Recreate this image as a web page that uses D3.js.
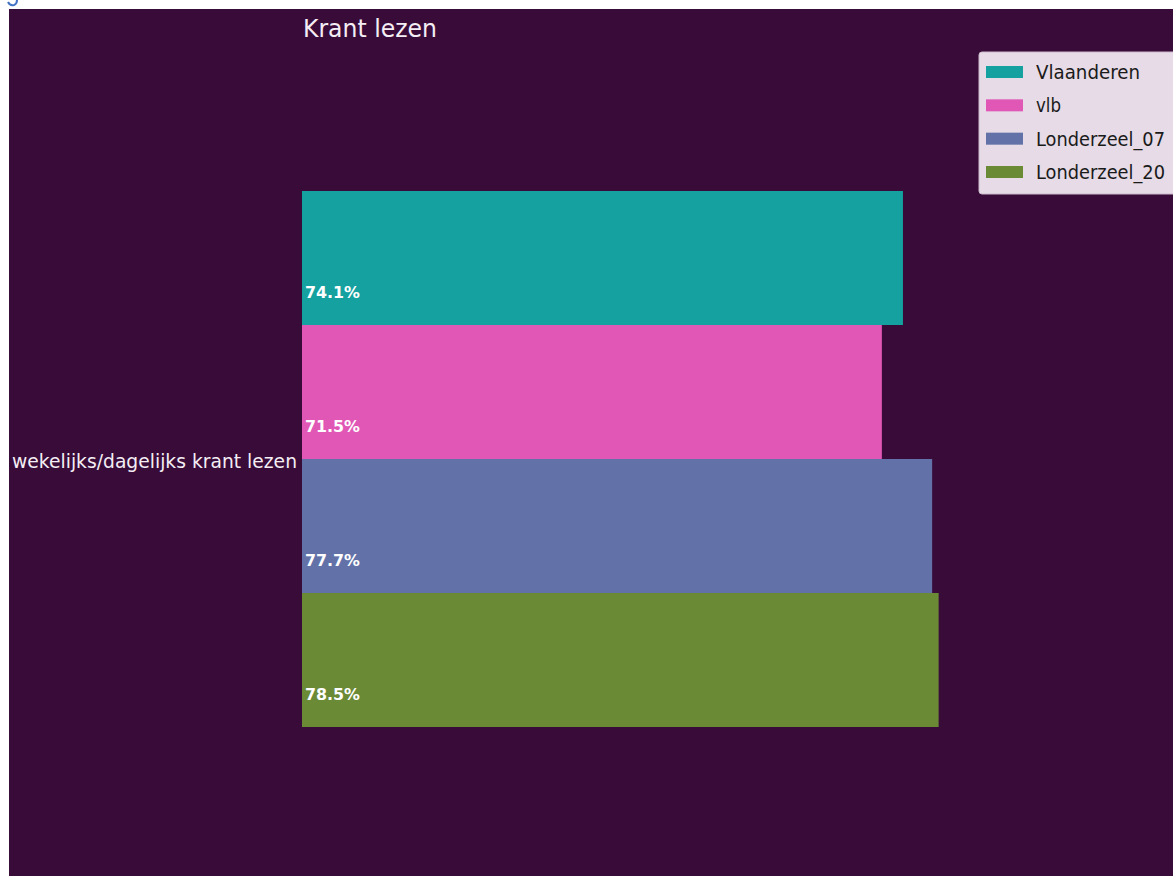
<!DOCTYPE html>
<html><head><meta charset="utf-8">
<script src="https://cdn.jsdelivr.net/npm/d3@7"></script>
<style>body{margin:0;background:#fff;}svg{display:block;}</style>
</head><body>
<svg id="c" width="1173" height="876"></svg>
<script>
const title = "Krant lezen";
const categories = ["wekelijks/dagelijks krant lezen"];
const seriesNames = ["Vlaanderen", "vlb", "Londerzeel_07", "Londerzeel_20"];
const seriesValues = [74.1, 71.5, 77.7, 78.5];
const seriesColors = ["#15a19f", "#e057b6", "#6272a8", "#6b8a36"];

const svg = d3.select("#c");
const W = 1173, H = 876;
const font = "'DejaVu Sans', sans-serif";

svg.append("rect").attr("x", 9).attr("y", 9).attr("width", W - 9).attr("height", H - 9).attr("fill", "#380b39");

// cut-off caption fragment in the top-left corner (only a glyph tail is visible)
svg.append("path").attr("d", "M8,2 Q10,6 14,5 Q17,4 17,0")
  .attr("fill", "none").attr("stroke", "#4472c4").attr("stroke-width", 2);

const x = d3.scaleLinear().domain([0, 100]).range([302, 302 + 811]);
const y0 = d3.scaleBand().domain(categories).range([191, 727]).padding(0);
const y1 = d3.scaleBand().domain(seriesNames).range([0, y0.bandwidth()]).padding(0);

const g = svg.append("g");
categories.forEach(cat => {
  seriesNames.forEach((s, i) => {
    const v = seriesValues[i];
    g.append("rect")
      .attr("x", x(0)).attr("y", y0(cat) + y1(s))
      .attr("width", x(v) - x(0)).attr("height", y1.bandwidth())
      .attr("fill", seriesColors[i]);
    g.append("text")
      .attr("x", x(0) + 3).attr("y", y0(cat) + y1(s) + 107)
      .attr("fill", "#ffffff").attr("font-family", font).attr("font-weight", "bold")
      .attr("font-size", 16).attr("textLength", 55).attr("lengthAdjust", "spacingAndGlyphs")
      .text(v.toFixed(1) + "%");
  });
  g.append("text")
    .attr("x", 297).attr("y", y0(cat) + y0.bandwidth() / 2 + 9)
    .attr("text-anchor", "end").attr("fill", "#f4eef4")
    .attr("font-family", font).attr("font-size", 19)
    .attr("textLength", 285).attr("lengthAdjust", "spacingAndGlyphs")
    .text(cat);
});

svg.append("text").attr("x", 303).attr("y", 37).attr("fill", "#f4eef4")
  .attr("font-family", font).attr("font-size", 25)
  .attr("textLength", 134).attr("lengthAdjust", "spacingAndGlyphs").text(title);

// legend
const lg = svg.append("g");
lg.append("rect").attr("x", 979).attr("y", 52).attr("width", 200).attr("height", 142).attr("rx", 3)
  .attr("fill", "#e6dbe6").attr("stroke", "#cbbccb");
const legY = d3.scalePoint().domain(seriesNames).range([72, 172]);
const legLens = [104, 25, 129, 129];
seriesNames.forEach((s, i) => {
  lg.append("rect").attr("x", 986).attr("y", legY(s) - 6).attr("width", 37).attr("height", 12)
    .attr("fill", seriesColors[i]);
  lg.append("text").attr("x", 1036).attr("y", legY(s) + 7).attr("fill", "#1a1a1a")
    .attr("font-family", font).attr("font-size", 19)
    .attr("textLength", legLens[i]).attr("lengthAdjust", "spacingAndGlyphs").text(s);
});
</script>
</body></html>
